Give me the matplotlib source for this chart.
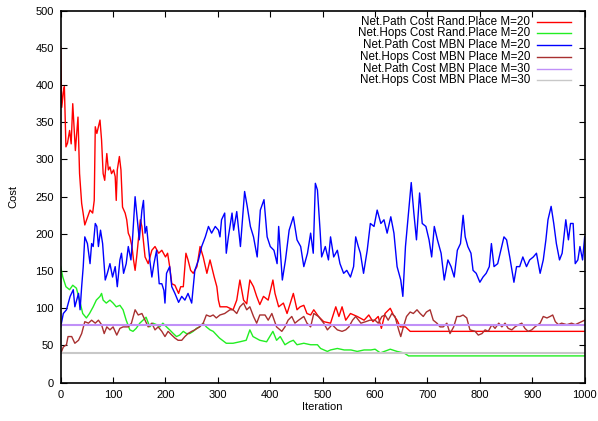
import matplotlib
matplotlib.use("Agg")
import matplotlib.pyplot as plt
from matplotlib.lines import Line2D

plt.rcParams['font.family'] = ['Liberation Sans', 'DejaVu Sans']

# Net.Path Cost Rand.Place M=20
red_x = [0, 2, 5, 7, 10, 13, 17, 20, 23, 28, 33, 36, 40, 43, 46, 52, 56, 61, 64, 66, 69, 72, 75, 78,
         81, 84, 88, 91, 94, 97, 101, 104, 106, 108, 112, 115, 118, 123, 126, 129, 132, 136, 139, 142,
         145, 152, 155, 161, 167, 174, 180, 187, 193, 200, 204, 208, 212, 218, 225, 229, 234, 239, 243,
         248, 253, 260, 266, 272, 279, 285, 293, 298, 301, 304, 317, 329, 336, 342, 349, 355, 361, 368,
         374, 380, 387, 396, 405, 409, 416, 425, 432, 444, 451, 457, 464, 470, 477, 483, 492, 502, 515,
         525, 531, 537, 544, 553, 566, 579, 588, 596, 606, 612, 619, 629, 635, 642, 648, 658, 667, 1000]
red_y = [451, 370, 390, 398, 317, 322, 339, 321, 375, 312, 357, 281, 241, 227, 212, 224, 232, 228, 245,
         344, 335, 344, 353, 326, 281, 272, 308, 286, 290, 281, 286, 277, 245, 286, 304, 286, 236, 228,
         219, 201, 196, 183, 165, 151, 169, 219, 210, 169, 160, 178, 183, 174, 178, 169, 174, 156, 133,
         131, 120, 129, 129, 174, 165, 151, 147, 156, 183, 169, 147, 165, 142, 129, 111, 102, 102, 98,
         111, 138, 111, 106, 138, 129, 116, 105, 116, 111, 138, 120, 102, 107, 93, 120, 98, 102, 104,
         93, 91, 98, 89, 82, 80, 102, 89, 102, 84, 93, 89, 84, 91, 82, 89, 73, 93, 100, 91, 84, 75, 75,
         69, 69]

# Net.Hops Cost Rand.Place M=20
green_x = [0, 4, 10, 17, 23, 30, 36, 42, 49, 55, 62, 68, 75, 78, 81, 87, 94, 100, 106, 113, 119, 125,
           132, 138, 144, 151, 157, 163, 170, 176, 183, 189, 195, 202, 208, 215, 221, 227, 234, 240, 246,
           253, 259, 265, 272, 278, 285, 291, 303, 316, 329, 342, 354, 361, 367, 380, 393, 405, 412, 419,
           428, 437, 444, 451, 464, 477, 490, 496, 509, 515, 528, 541, 554, 566, 579, 592, 600, 610, 629,
           642, 655, 664, 1000]
green_y = [156, 142, 129, 125, 131, 127, 111, 93, 87, 93, 102, 111, 116, 120, 111, 107, 111, 107, 102,
           104, 98, 84, 71, 69, 73, 80, 84, 88, 75, 80, 78, 75, 80, 75, 71, 66, 62, 64, 69, 66, 66, 69,
           73, 75, 80, 75, 71, 69, 60, 53, 53, 55, 57, 71, 62, 57, 55, 69, 57, 62, 51, 55, 57, 51, 53,
           51, 51, 46, 42, 44, 46, 44, 44, 42, 44, 44, 45, 40, 45, 42, 40, 36, 36]

# Net.Path Cost MBN Place M=20
blue_x = [0, 5, 11, 18, 24, 27, 34, 37, 40, 43, 46, 51, 56, 59, 62, 66, 69, 72, 76, 80, 85, 89, 94, 99,
          104, 108, 113, 116, 120, 125, 129, 134, 137, 142, 145, 150, 155, 158, 161, 164, 170, 174, 178,
          183, 188, 193, 197, 199, 202, 208, 212, 218, 225, 231, 237, 243, 250, 256, 263, 269, 276, 282,
          288, 295, 301, 304, 307, 313, 316, 320, 327, 330,
          336, 343, 351, 356, 362, 368, 375, 381, 388, 394, 400, 407, 413, 416, 423, 429, 436, 444, 451,
          458, 464, 471, 477, 482, 486, 490, 495, 498, 505, 511, 515, 521, 528, 533, 540, 546, 553, 559,
          563, 568, 572, 578, 585, 591, 598, 604, 611, 617, 623, 630, 636, 642, 649, 653, 658, 665, 669,
          674, 679, 685, 690, 697, 703, 708, 713, 719, 726, 732, 739, 745, 751, 757, 763, 768, 772, 777,
          783, 787, 793, 800, 806, 812, 818, 822, 827, 834, 840, 846, 851, 857, 865, 870, 876, 882, 889,
          895, 902, 908, 915, 921, 926, 930, 936, 941, 946, 952, 957, 964, 969, 973, 978, 982, 987, 991,
          996, 1000]
blue_y = [75, 93, 98, 116, 125, 102, 120, 98, 129, 156, 196, 187, 160, 187, 183, 214, 210, 183, 205, 187,
          138, 147, 160, 142, 156, 129, 165, 174, 147, 160, 183, 165, 192, 250, 228, 192, 232, 245, 201,
          210, 165, 142, 160, 178, 133, 133, 124, 107, 147, 156, 129, 120, 108, 116, 111, 120, 107, 151,
          165, 183, 196, 210, 201, 210, 205, 196, 219, 228, 174, 196, 228, 205,
          230, 183, 257, 237, 210, 196, 169, 232, 246, 196, 183, 178, 160, 210, 138, 165,
          205, 223, 192, 183, 156, 174, 201, 174, 268, 259, 205, 169, 183, 165, 196, 169, 178, 160, 147,
          151, 142, 156, 196, 183, 174, 147, 178, 214, 210, 232, 214, 219, 201, 223, 201, 156, 138, 116,
          183, 237, 269, 228, 192, 255, 214, 210, 192, 169, 210, 192, 174, 138, 165, 156, 142, 178, 187,
          225, 196, 183, 174, 151, 147, 135, 142, 147, 156, 187, 156, 160, 178, 196, 192, 169, 135, 156,
          156, 169, 156, 165, 169, 174, 147, 165, 192, 219, 237, 214, 187, 165, 174, 219, 192, 214, 214,
          160, 165, 183, 165, 196]

# Net.Hops Cost MBN Place M=20
brown_x = [0, 5, 11, 14, 21, 27, 34, 40, 46, 53, 59, 66, 72, 78, 83, 88, 94, 100, 107, 113, 119, 129,
           135, 142, 148, 155, 161, 167, 174, 180, 186, 193, 199, 205, 212, 218, 224, 231, 237, 243, 250,
           256, 265, 272, 278, 285, 291, 297, 304, 313, 323, 329, 336, 342, 349, 355, 361, 368, 374, 380,
           390, 396, 403, 412, 422, 428, 434, 441, 447, 454, 464, 470, 477, 483, 492, 502, 509, 518, 528,
           537, 544, 550, 557, 563, 573, 582, 590, 600, 606, 613, 619, 625, 632, 638, 645, 649, 654, 660,
           667, 673, 680, 686, 692, 698, 705, 711, 718, 724, 730, 737, 743, 750, 756, 762, 768, 775, 781,
           791, 797, 804, 810, 816, 823, 829, 836, 842, 848, 854, 861, 867, 874, 880, 886, 892, 899, 905,
           915, 921, 928, 934, 939, 944, 950, 956, 966, 975, 982, 988, 994, 1000]
brown_y = [39, 48, 51, 62, 62, 53, 57, 66, 82, 80, 84, 80, 84, 78, 66, 75, 71, 75, 64, 73, 75, 75, 80,
           98, 91, 93, 84, 75, 80, 71, 75, 69, 62, 69, 64, 60, 57, 57, 62, 66, 69, 71, 75, 80, 91, 89, 91,
           87, 91, 93, 98, 98, 93, 102, 107, 98, 102, 89, 80, 91, 91, 84, 93, 75, 69, 75, 84, 89, 80, 84,
           89, 80, 75, 93, 89, 80, 71, 78, 71, 69, 71, 75, 84, 89, 80, 82, 84, 84, 80, 89, 91, 84, 93, 89,
           71, 62, 75, 89, 95, 93, 98, 93, 89, 95, 98, 84, 80, 75, 75, 80, 66, 75, 89, 89, 91, 87, 71, 69,
           64, 66, 71, 69, 78, 73, 80, 75, 80, 73, 71, 75, 78, 80, 73, 69, 71, 75, 80, 89, 87, 89, 91, 82,
           78, 80, 78, 80, 78, 80, 82, 84]

# M=30 curves are flat
m30_x = [0, 1000]
path_m30 = [77, 77]
hops_m30 = [40, 40]

labels = ["Net.Path Cost Rand.Place M=20", "Net.Hops Cost Rand.Place M=20",
          "Net.Path Cost MBN Place M=20", "Net.Hops Cost MBN Place M=20",
          "Net.Path Cost MBN Place M=30", "Net.Hops Cost MBN Place M=30"]
colors = ["#ff0000", "#22ee22", "#0000ff", "#a83030", "#c090f8", "#c8c8c8"]

fig = plt.figure(figsize=(5.98, 4.21), dpi=100)
ax = fig.add_axes([0.1015, 0.091, 0.8762, 0.8836])

series = [(red_x, red_y), (green_x, green_y), (blue_x, blue_y), (brown_x, brown_y),
          (m30_x, path_m30), (m30_x, hops_m30)]
for (xs, ys), c in zip(series, colors):
    lw = 1.5 if len(xs) == 2 else 1.0
    ax.plot(xs, ys, color=c, lw=lw)

ax.set_xlim(0, 1000)
ax.set_ylim(0, 500)
ax.set_xticks(range(0, 1001, 100))
ax.set_yticks(range(0, 501, 50))
ax.tick_params(direction="in", top=True, right=True, length=4, width=0.8,
               labelsize=8, colors="black", pad=5)
for s in ax.spines.values():
    s.set_linewidth(1.2)
ax.set_xlabel("Iteration", fontsize=8, labelpad=2)
ax.set_ylabel("Cost", fontsize=8, labelpad=12)

# gnuplot style key: right aligned text, sample line on the right
for i, (lab, c) in enumerate(zip(labels, colors)):
    y = 0.9704 - i * 0.0315
    ax.text(0.8956, y, lab, transform=ax.transAxes, ha="right", va="center", fontsize=8.4)
    ax.add_line(Line2D([0.909, 0.974], [y, y], transform=ax.transAxes, color=c, lw=1.0))

fig.savefig("out.png", dpi=100)
